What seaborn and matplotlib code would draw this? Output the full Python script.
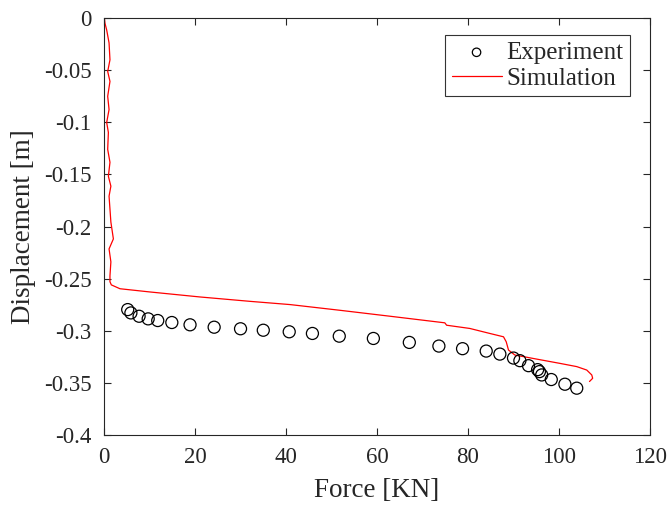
import pandas as pd
import seaborn as sns
from matplotlib import pyplot as plt

# experiment points (force in KN, displacement in m)
exp_force = [5.2, 5.9, 7.7, 9.7, 11.8, 14.9, 18.9, 24.2, 30.0, 35.0, 40.7, 45.8,
             51.7, 59.2, 67.1, 73.6, 78.8, 84.0, 87.0, 90.0, 91.4, 93.3, 95.3,
             95.7, 96.2, 98.3, 101.3, 103.9]
exp_disp = [-0.2797, -0.2829, -0.2861, -0.2886, -0.2902, -0.2921, -0.2943, -0.2966,
            -0.2981, -0.2995, -0.3010, -0.3026, -0.3052, -0.3074, -0.3112, -0.3147,
            -0.3172, -0.3195, -0.3224, -0.3262, -0.3287, -0.3335, -0.3373, -0.3392,
            -0.3424, -0.3468, -0.3513, -0.3551]

# simulation curve
sim_force = [0.07, 0.2, 0.58, 1.1, 1.3, 0.8, 1.3, 0.8, 1.1, 0.58, 0.95, 0.8, 1.3,
             0.95, 1.5, 1.1, 1.3, 1.5, 2.05, 1.1, 1.5, 1.3, 1.3, 1.6, 3.5, 10.1,
             21.1, 32.1, 40.9, 51.9, 62.9, 74.9, 75.3, 80.4, 84.8, 87.8, 88.4, 88.9,
             90.3, 95.1, 100.2, 103.9, 106.1, 107.2, 107.4, 106.7]
sim_disp = [0.0, -0.005, -0.0115, -0.0239, -0.0401, -0.0513, -0.0608, -0.0751,
            -0.0878, -0.1002, -0.1098, -0.126, -0.1384, -0.1518, -0.1613, -0.1709,
            -0.1833, -0.1957, -0.2119, -0.2215, -0.2339, -0.2473, -0.2530, -0.2560,
            -0.2597, -0.2628, -0.2676, -0.2718, -0.2749, -0.2804, -0.2861, -0.2924,
            -0.2947, -0.2978, -0.3026, -0.3058, -0.3106, -0.3185, -0.3233, -0.3272,
            -0.3313, -0.3344, -0.3377, -0.3424, -0.3456, -0.3487]

y_ticks = [-0.4, -0.35, -0.3, -0.25, -0.2, -0.15, -0.1, -0.05, 0]
y_labels = ['-0.4', '-0.35', '-0.3', '-0.25', '-0.2', '-0.15', '-0.1', '-0.05', '0']
x_ticks = [0, 20, 40, 60, 80, 100, 120]

exp = pd.DataFrame({'force': exp_force, 'disp': exp_disp})
sim = pd.DataFrame({'force': sim_force, 'disp': sim_disp})

sns.set_style("ticks")
plt.rcParams['font.family'] = ['Liberation Serif', 'DejaVu Serif']
plt.rcParams['xtick.direction'] = 'in'
plt.rcParams['ytick.direction'] = 'in'

fig = plt.figure(figsize=(6.67, 5.09), dpi=100)
ax = fig.add_axes([0.156, 0.1454, 0.8185, 0.8192])

sns.scatterplot(data=exp, x='force', y='disp', marker='o', s=75, fc='none',
                ec='black', linewidth=0.9, label='Experiment', ax=ax, zorder=3)
sns.lineplot(data=sim, x='force', y='disp', sort=False, estimator=None,
             color='red', linewidth=0.9, label='Simulation', ax=ax)

ax.set_xlim(0, 120)
ax.set_ylim(-0.4, 0)
ax.set_xticks(x_ticks)
ax.set_yticks(y_ticks)
ax.set_yticklabels(y_labels)
ax.tick_params(labelsize=16.5, top=True, right=True, length=5, width=0.8)
ax.tick_params(axis='x', pad=9)
ax.tick_params(axis='y', pad=9)
for s in ax.spines.values():
    s.set_visible(True)
    s.set_linewidth(0.8)
    s.set_color('#262626')

ax.set_xlabel('Force [KN]', fontsize=19.5, labelpad=7)
ax.set_ylabel('Displacement [m]', fontsize=19.5, labelpad=6)

leg = ax.legend(loc='upper right', fontsize=18, frameon=True, fancybox=False,
                framealpha=1, edgecolor='#333333', handlelength=2.0,
                handletextpad=0.2, borderpad=0.25, labelspacing=0.15,
                borderaxespad=0, markerscale=0.7,
                bbox_to_anchor=(0.963, 0.959))
leg.get_frame().set_linewidth(0.8)

plt.savefig('out.png', dpi=100)
